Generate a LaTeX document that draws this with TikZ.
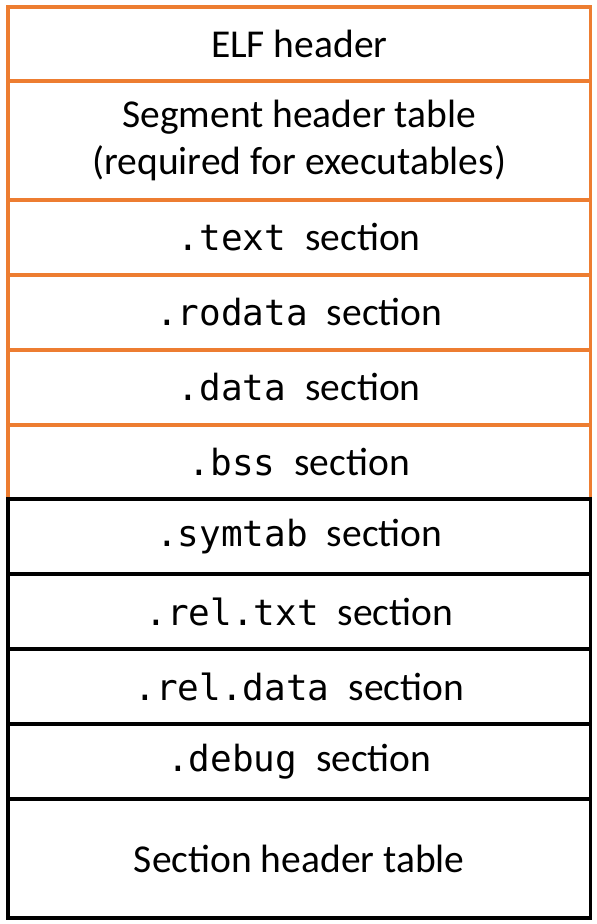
\documentclass[tikz,border=0pt]{standalone}
\usepackage{fontspec}
\setmainfont{Carlito}
\newfontfamily\codefont{DejaVu Sans Mono}
\definecolor{loadcol}{HTML}{ED7D31}
\begin{document}
\begin{tikzpicture}[x=1pt,y=-1pt,
  rowbox/.style={draw, line width=3.2pt, minimum width=582.5pt, inner sep=0pt,
    font=\fontsize{39.5}{47}\selectfont, align=center},
  loaded/.style={rowbox, draw=loadcol},
  other/.style={rowbox, draw=black}]
\useasboundingbox (0,0) rectangle (597,924);
\newcommand{\cd}[1]{{\codefont\fontsize{36}{46}\selectfont #1}\hspace{19pt}}
% loadable part of the file (orange)
\node[loaded, minimum height=74pt]  (elf)  at (299.25,44)    {ELF header};
\node[loaded, minimum height=119pt] (seg)  at (299.25,140.5) {Segment header table\\(required for executables)};
\node[loaded, minimum height=75pt]  (text) at (299.25,237.5) {\cd{.text}section};
\node[loaded, minimum height=75pt]  (ro)   at (299.25,312.5) {\cd{.rodata}section};
\node[loaded, minimum height=75pt]  (data) at (299.25,387.5) {\cd{.data}section};
\node[loaded, minimum height=74pt]  (bss)  at (299.25,462)   {\cd{.bss}section};
% remaining sections (black)
\node[other, minimum height=75pt]  (sym)  at (299.25,536.5) {\cd{.symtab}section};
\node[other, minimum height=75pt]  (rtx)  at (299.25,611.5) {\cd{.rel.txt}section};
\node[other, minimum height=75pt]  (rda)  at (299.25,686.5) {\cd{.rel.data}section};
\node[other, minimum height=75pt]  (dbg)  at (299.25,761.5) {\cd{.debug}section};
\node[other, minimum height=119pt] (sht)  at (299.25,858.5) {Section header table};
\end{tikzpicture}
\end{document}
